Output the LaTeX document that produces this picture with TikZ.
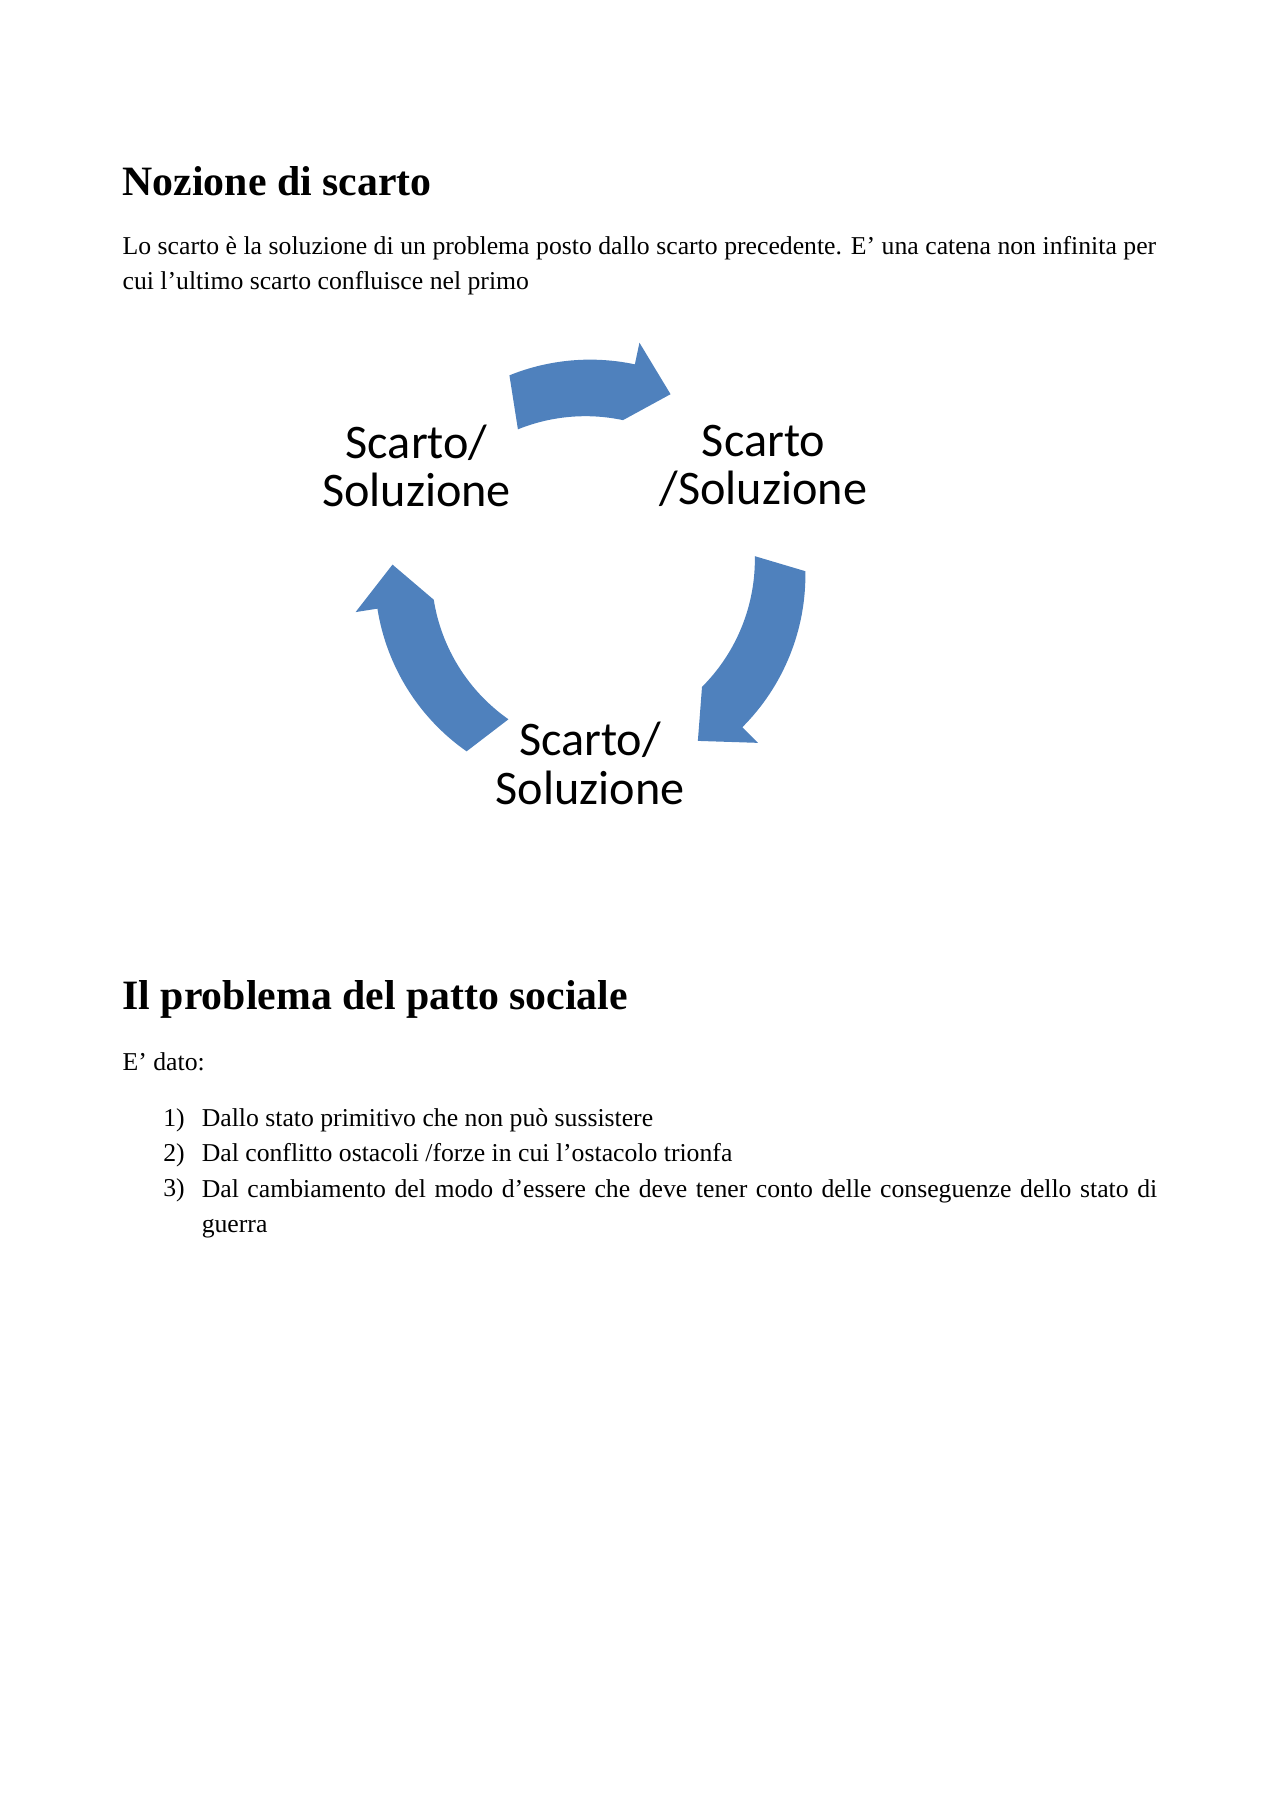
\documentclass[tikz,border=0pt]{standalone}
\usepackage{fontspec}
\setmainfont{Liberation Serif}
\newfontfamily\calibri{Carlito}
\usetikzlibrary{positioning}

\definecolor{cycleblue}{HTML}{4F81BD}

\tikzset{
    heading/.style = {anchor = base west, inner sep = 0pt, font = \fontsize{19.5}{23}\selectfont\bfseries},
    body/.style    = {anchor = base west, inner sep = 0pt, font = \fontsize{12}{16.3}\selectfont},
    steplabel/.style = {align = center, inner sep = 0pt, font = \calibri\fontsize{22.5}{22.5}\selectfont},
    ringarrow/.style = {fill = cycleblue, draw = none}
}

% ring arrow: start angle, tip angle (clockwise)
\newcommand{\ringArrow}[2]{%
    \pgfmathsetmacro{\headA}{#2 + 12}
    \fill[ringarrow] (#1:185) arc[start angle = #1, end angle = \headA, radius = 185]
        -- (\headA:204) -- (#2:170) -- (\headA:136)
        arc[start angle = \headA, end angle = #1, radius = 155] -- cycle;
}

\begin{document}
\begin{tikzpicture}[x = 0.01909cm, y = -0.01909cm]

    \useasboundingbox (0,0) rectangle (1100,1556);

    % first section
    \node[heading] (headA) at (105,168) {Nozione di scarto};
    \node[body, anchor = north west, text width = 16.95cm, align = justify] (intro) at (105,203)
        {Lo scarto è la soluzione di un problema posto dallo scarto precedente. E’ una catena non infinita per cui l’ultimo scarto confluisce nel primo};

    % cycle
    \begin{scope}[shift = {(507,494)}, y = 0.01909cm]
        \ringArrow{112}{66}
        \ringArrow{1}{-57}
        \ringArrow{235}{177}
    \end{scope}

    \node[steplabel] (stepL) at (358,400) {Scarto/\\Soluzione};
    \node[steplabel] (stepR) at (656,400) {Scarto\\/Soluzione};
    \node[steplabel] (stepB) at (507,656) {Scarto/\\Soluzione};

    % second section
    \node[heading] (headB) at (105,867) {Il problema del patto sociale};
    \node[body] (given) at (105,920) {E’ dato:};

    \foreach \NUM/\YPOS/\TEXT in {1/968/{Dallo stato primitivo che non può sussistere},
                                  2/998/{Dal conflitto ostacoli /forze in cui l’ostacolo trionfa}}{
        \node[body] (num\NUM) at (140,\YPOS) {\NUM)};
        \node[body] (item\NUM) at (173,\YPOS) {\TEXT};
    }
    \node[body] (num3) at (140,1028) {3)};
    \node[body, anchor = north west, text width = 15.95cm] (item3) at (173,1013)
        {Dal cambiamento del modo d’essere che deve tener conto delle conseguenze dello stato di guerra};

\end{tikzpicture}
\end{document}
